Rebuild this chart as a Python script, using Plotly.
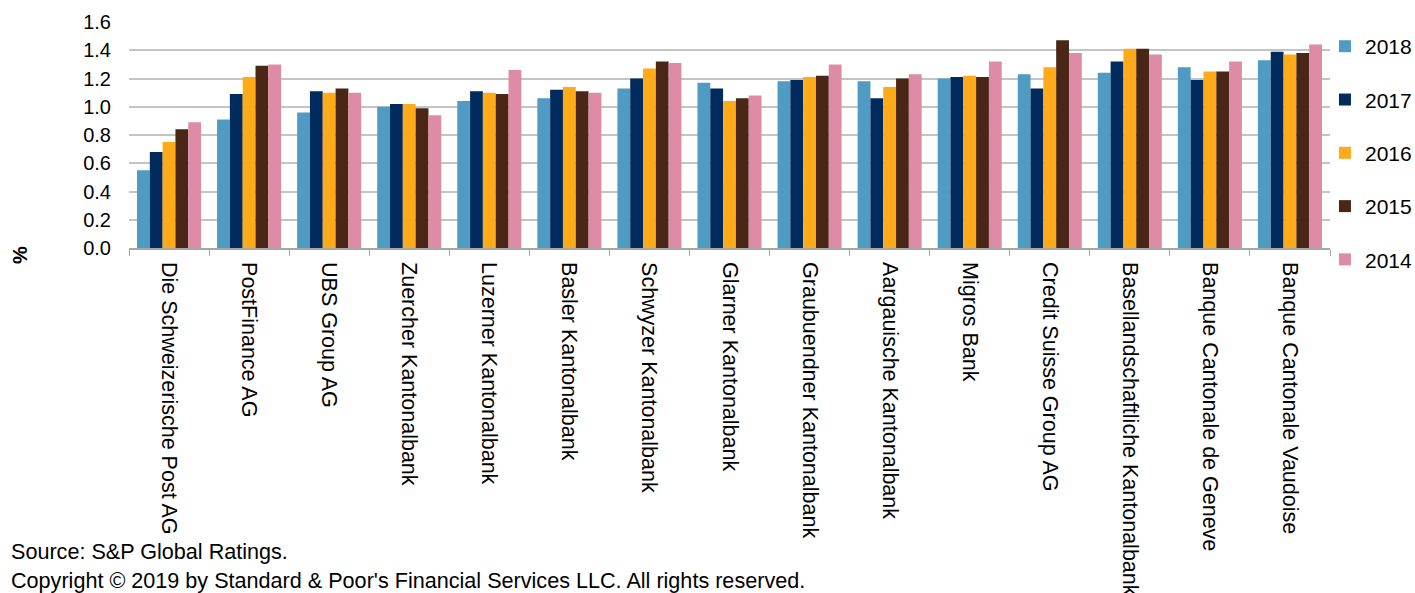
import plotly.graph_objects as go

banks = [
    "Die Schweizerische Post AG", "PostFinance AG", "UBS Group AG", "Zuercher Kantonalbank",
    "Luzerner Kantonalbank", "Basler Kantonalbank", "Schwyzer Kantonalbank", "Glarner Kantonalbank",
    "Graubuendner Kantonalbank", "Aargauische Kantonalbank", "Migros Bank", "Credit Suisse Group AG",
    "Basellandschaftliche Kantonalbank", "Banque Cantonale de Geneve", "Banque Cantonale Vaudoise",
]
years = ["2018", "2017", "2016", "2015", "2014"]
v2018 = [0.55, 0.91, 0.96, 1.00, 1.04, 1.06, 1.13, 1.17, 1.18, 1.18, 1.20, 1.23, 1.24, 1.28, 1.33]
v2017 = [0.68, 1.09, 1.11, 1.02, 1.11, 1.12, 1.20, 1.13, 1.19, 1.06, 1.21, 1.13, 1.32, 1.19, 1.39]
v2016 = [0.75, 1.21, 1.10, 1.02, 1.10, 1.14, 1.27, 1.04, 1.21, 1.14, 1.22, 1.28, 1.41, 1.25, 1.37]
v2015 = [0.84, 1.29, 1.13, 0.99, 1.09, 1.11, 1.32, 1.06, 1.22, 1.20, 1.21, 1.47, 1.41, 1.25, 1.38]
v2014 = [0.89, 1.30, 1.10, 0.94, 1.26, 1.10, 1.31, 1.08, 1.30, 1.23, 1.32, 1.38, 1.37, 1.32, 1.44]
series = [v2018, v2017, v2016, v2015, v2014]
colors = ["#4F9BC4", "#002B5C", "#FFAB19", "#4A2616", "#DE8BA6"]

FONT = "Liberation Sans, Arial, sans-serif"

fig = go.Figure()
for yr, vals, col in zip(years, series, colors):
    fig.add_trace(go.Bar(
        x=banks, y=vals, name=yr, marker=dict(color=col, line=dict(width=0)),
        legendgroup=yr,
    ))

fig.update_layout(
    width=1415, height=593,
    margin=dict(l=129, r=85, t=22, b=345, autoexpand=False),
    paper_bgcolor="white", plot_bgcolor="white",
    barmode="group", bargap=0.2, bargroupgap=0,
    font=dict(family=FONT, color="#000000"),
    showlegend=True,
    legend=dict(
        x=0.9958, y=0.982, xanchor="left", yanchor="top",
        font=dict(size=21, family=FONT), traceorder="grouped",
        tracegroupgap=23, itemwidth=30, borderwidth=0,
        bgcolor="rgba(0,0,0,0)", maxheight=450,
    ),
    xaxis=dict(
        automargin=False,
        tickangle=90, tickfont=dict(size=21.5, family=FONT),
        ticks="outside", tickson="boundaries", ticklen=6, tickcolor="#A6A6A6",
        showline=True, linecolor="#A6A6A6", linewidth=1.5,
        showgrid=False, ticklabelstandoff=8,
    ),
    yaxis=dict(
        automargin=False,
        range=[0, 1.6], dtick=0.2, tickformat=".1f",
        tickfont=dict(size=20, family=FONT),
        showgrid=True, gridcolor="#C4C4C4", gridwidth=1.5,
        zeroline=False, showline=False, ticks="", ticklabelstandoff=17,
    ),
    annotations=[
        dict(text="<b>%</b>", xref="paper", yref="paper", x=-0.0908, y=-0.031,
             xanchor="center", yanchor="middle", textangle=-90, showarrow=False,
             font=dict(size=20, family=FONT)),
        dict(text="Source: S&P Global Ratings.", xref="paper", yref="paper",
             x=-0.0999, y=-1.345, xanchor="left", yanchor="middle", showarrow=False,
             font=dict(size=21.6, family=FONT)),
        dict(text="Copyright © 2019 by Standard & Poor's Financial Services LLC. All rights reserved.",
             xref="paper", yref="paper",
             x=-0.0999, y=-1.473, xanchor="left", yanchor="middle", showarrow=False,
             font=dict(size=21.6, family=FONT)),
    ],
)

fig.write_html(
    "out.html",
    config={"displayModeBar": False},
    post_script="document.body.style.margin='0';document.body.style.overflow='hidden';",
)
